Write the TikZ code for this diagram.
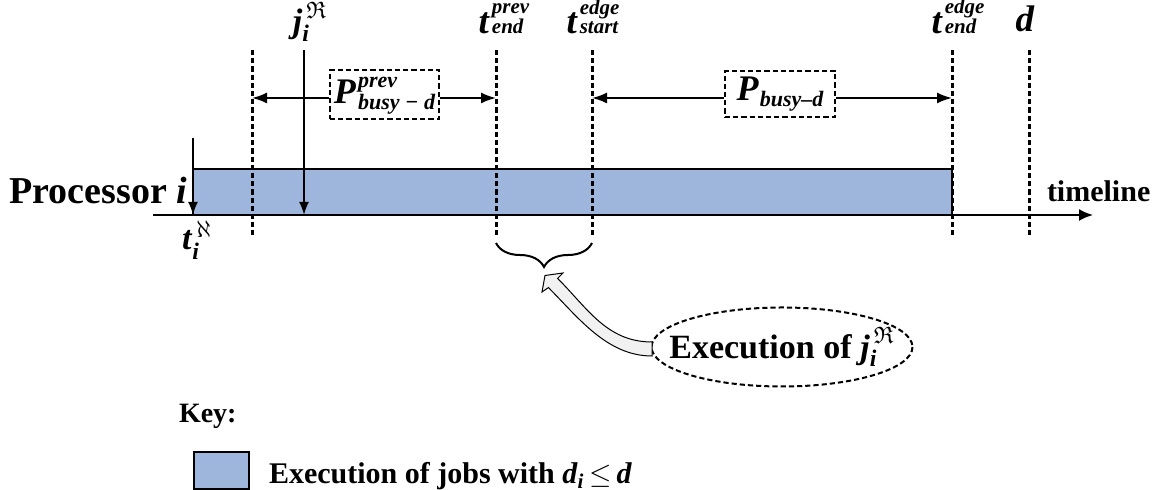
\documentclass[tikz,border=0pt]{standalone}
\usepackage{amsmath,amssymb}
\usepackage{fontspec}
\setmainfont{Liberation Serif}
\usetikzlibrary{arrows.meta,decorations.pathreplacing,shapes.geometric}

\definecolor{jobblue}{RGB}{158,182,219}
\definecolor{arrowgray}{RGB}{241,241,241}
\newcommand{\bi}[1]{\textbf{\textit{#1}}}
% letter with a stacked upper and lower index
\newcommand{\stk}[4]{\bi{#1}\hspace{1pt}\raisebox{#2}{\fontsize{#3}{#4}\selectfont\bfseries\itshape\stkrows}}
\newcommand{\tlab}[2]{\def\stkrows{\begin{tabular}[b]{@{}l@{}}#1\\#2\end{tabular}}\stk{t}{0pt}{10.5}{9.5}}
\newcommand{\plab}[2]{\def\stkrows{\begin{tabular}[b]{@{}l@{}}#1\\#2\end{tabular}}\stk{P}{-3pt}{11}{10}}

\tikzset{every picture/.style={line width=1pt}}

\begin{document}
\begin{tikzpicture}[x=0.5pt,y=0.5pt,yscale=-1,
  guide/.style={line width=1.5pt, dash pattern=on 2.6pt off 1.5pt},
  period/.style={draw, line width=1pt, dash pattern=on 2.6pt off 1.5pt, inner sep=0pt, font=\fontsize{18}{20}\selectfont},
  span/.style={-{Latex[length=7.5pt,width=5.5pt]}, line width=1pt},
  drop/.style={-{Latex[length=6.5pt,width=5pt]}, line width=1pt},
  lbl/.style={inner sep=0pt, font=\fontsize{18.5}{20}\selectfont}]
\useasboundingbox (0,0) rectangle (1158,490);

% busy interval of processor i
\fill[jobblue] (193,169) rectangle (952,215);
\draw (193,215) -- (193,169) -- (952,169) -- (952,215);

% dotted instants
\foreach \gx/\gn in {252/g1,496/g2,592/g3,952/g4,1029/g5}{
  \coordinate (\gn) at (\gx,98);
  \draw[guide] (\gx,50) -- (\gx,235);
}

% time axis
\coordinate (ax0) at (153,215);
\coordinate (ax1) at (1093,215);
\draw[-{Latex[length=7pt,width=6pt]}] (ax0) -- (ax1);

\node[lbl, anchor=east, font=\bfseries\fontsize{19}{20}\selectfont] (proc) at (188,191) {Processor \bi{i}};
\node[lbl, anchor=west, font=\bfseries\fontsize{15}{17}\selectfont] (tline) at (1046,191) {timeline};

% release instants
\coordinate (reltop) at (193,138);
\coordinate (relbot) at (193,215);
\draw[drop] (reltop) -- (relbot);
\coordinate (jtop) at (304,50);
\coordinate (jbot) at (304,215);
\draw[drop] (jtop) -- (jbot);

% labels above and below the axis
\node[lbl, anchor=base, font=\fontsize{17}{19}\selectfont] (jlab) at (310,33) {$\text{\bi{j}}_{\text{\bi{i}}}^{\,\mathfrak{R}}$};
\node[lbl, anchor=base] (tprev) at (504,34) {\tlab{prev}{end}};
\node[lbl, anchor=base] (tstart) at (593,34) {\tlab{edge}{start}};
\node[lbl, anchor=base] (tend) at (958,34) {\tlab{edge}{end}};
\node[lbl, anchor=base] (dlab) at (1025,32) {\bi{d}};
\node[lbl, anchor=base, font=\fontsize{17}{19}\selectfont] (tnull) at (197,250) {$\text{\bi{t}}^{\,\aleph}_{\text{\bi{i}}}$};

% busy periods
\node[period, minimum width=54.5pt, minimum height=24.5pt] (pprev) at (384.5,94.5) {\plab{prev}{busy − d}};
\draw[span] (pprev.west |- g1) -- (g1);
\draw[span] (pprev.east |- g2) -- (g2);
\node[period, minimum width=55pt, minimum height=23pt] (pbusy) at (780,94)
  {\bi{P}\hspace{0.5pt}\raisebox{-3pt}{\fontsize{11}{12}\selectfont\bfseries\itshape busy–d}};
\draw[span] (pbusy.west |- g3) -- (g3);
\draw[span] (pbusy.east |- g4) -- (g4);

% execution window of the job
\draw[decorate, decoration={brace, mirror, amplitude=12pt}, line width=1pt] (496,243) -- (592,243);
\coordinate (brtip) at (544,267);

\node[inner sep=0pt, font=\fontsize{17}{19}\selectfont] (exe) at (782,347)
  {\textbf{Execution of} $\text{\bi{j}}_{\text{\bi{i}}}^{\,\mathfrak{R}}$};
\draw[line width=1pt, dash pattern=on 2.6pt off 1.5pt] (exe.center) ellipse [x radius=130.5, y radius=39.5];

% block arrow from the note to the brace
\filldraw[fill=arrowgray, line width=0.5pt] (652,342) .. controls (607,342) and (587.6,308.4) .. (557.6,278.4)
  -- (563,273) -- (545,275.5) -- (542,292) -- (548.4,287.6)
  .. controls (578.4,317.6) and (607,356) .. (652,356) -- cycle;

% key
\node[lbl, anchor=west, font=\bfseries\fontsize{14}{16}\selectfont] (key) at (178,416) {Key:};
\node[draw, fill=jobblue, line width=1pt, inner sep=0pt, minimum width=27.5pt, minimum height=18.5pt] (keybox) at (221,470.5) {};
\node[lbl, anchor=west, font=\fontsize{15}{17}\selectfont] (keytxt) at (268,476)
  {\textbf{Execution of jobs with} $\text{\bi{d}}_{\text{\bi{i}}}\,{\leq}\,\text{\bi{d}}$};

\end{tikzpicture}
\end{document}
